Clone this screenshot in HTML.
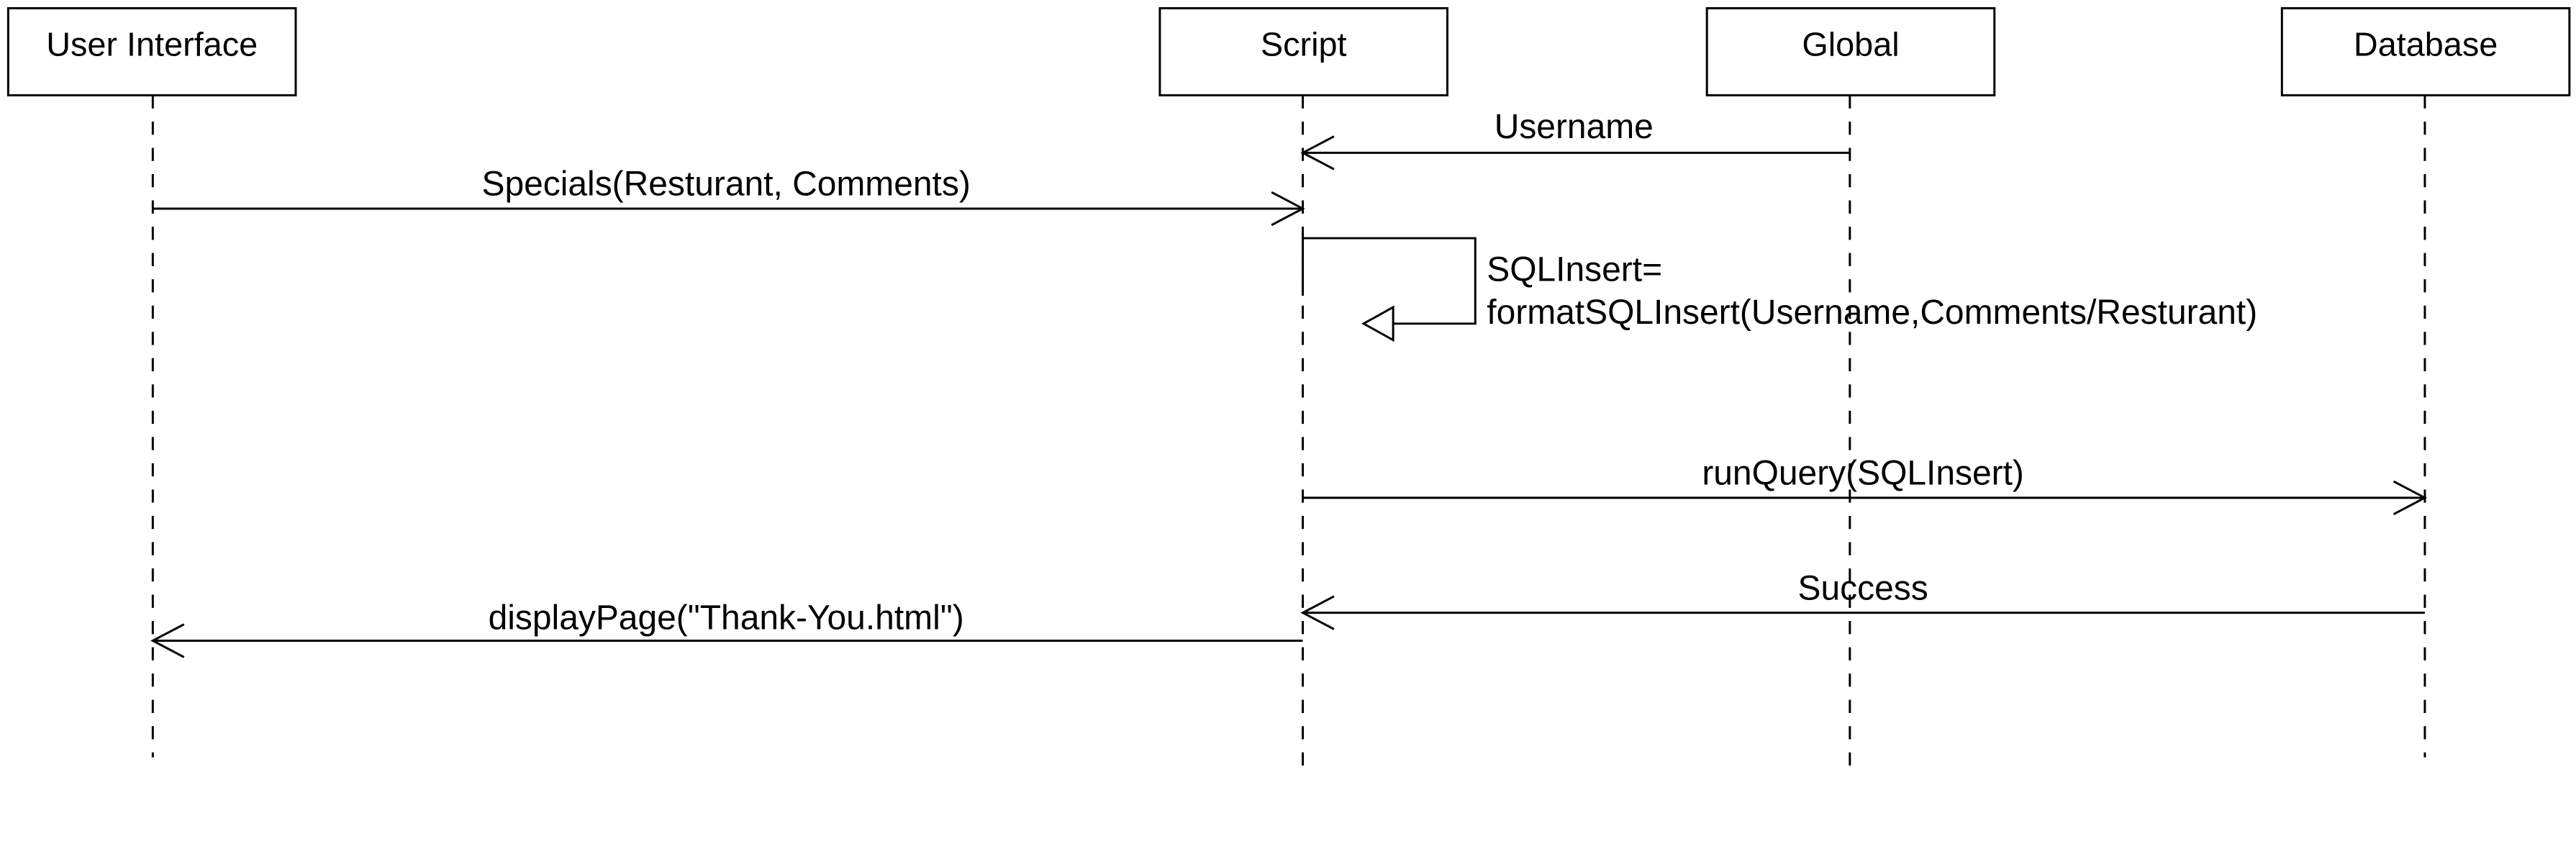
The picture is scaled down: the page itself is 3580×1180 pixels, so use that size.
<!DOCTYPE html>
<html><head><meta charset="utf-8"><style>html,body{margin:0;padding:0;background:#fff}svg{display:block}</style></head>
<body>
<svg width="3580" height="1180" viewBox="0 0 1568 516.8" preserveAspectRatio="none" xmlns="http://www.w3.org/2000/svg">
<g fill="#fff" stroke="#000" stroke-width="1.3">
<rect x="5" y="5" width="175" height="53"/>
<rect x="706" y="5" width="175" height="53"/>
<rect x="1039" y="5" width="175" height="53"/>
<rect x="1389" y="5" width="175" height="53"/>
</g>
<g font-family="Liberation Sans, Arial, sans-serif" font-size="20.5" text-anchor="middle" fill="#000">
<text x="92.5" y="34">User Interface</text>
<text x="793.5" y="34">Script</text>
<text x="1126.5" y="34">Global</text>
<text x="1476.5" y="34">Database</text>
</g>
<g stroke="#000" stroke-width="1.3" stroke-dasharray="8,8" fill="none">
<line x1="93" y1="58" x2="93" y2="461"/>
<line x1="793" y1="58" x2="793" y2="467"/>
<line x1="1126" y1="58" x2="1126" y2="467"/>
<line x1="1476" y1="58" x2="1476" y2="461"/>
</g>
<g stroke="#000" stroke-width="1.3" fill="none">
<line x1="1126" y1="93" x2="793" y2="93"/><polyline points="812,83 793,93 812,103"/>
<line x1="93" y1="127" x2="793" y2="127"/><polyline points="774,117 793,127 774,137"/>
<line x1="793" y1="180" x2="793" y2="145"/><polyline points="793,145 898,145 898,197 848,197"/>
<polygon points="848,187 830,197 848,207" fill="#fff"/>
<line x1="793" y1="303" x2="1476" y2="303"/><polyline points="1457,293 1476,303 1457,313"/>
<line x1="1476" y1="373" x2="793" y2="373"/><polyline points="812,363 793,373 812,383"/>
<line x1="793" y1="390" x2="93" y2="390"/><polyline points="112,380 93,390 112,400"/>
</g>
<g font-family="Liberation Sans, Arial, sans-serif" font-size="21" fill="#000">
<text x="958" y="84" text-anchor="middle">Username</text>
<text x="442" y="119" text-anchor="middle">Specials(Resturant, Comments)</text>
<text x="905" y="171">SQLInsert=</text>
<text x="905" y="197">formatSQLInsert(Username,Comments/Resturant)</text>
<text x="1134" y="295" text-anchor="middle">runQuery(SQLInsert)</text>
<text x="1134" y="365" text-anchor="middle">Success</text>
<text x="442" y="383" text-anchor="middle">displayPage("Thank-You.html")</text>
</g>
</svg>
</body></html>
